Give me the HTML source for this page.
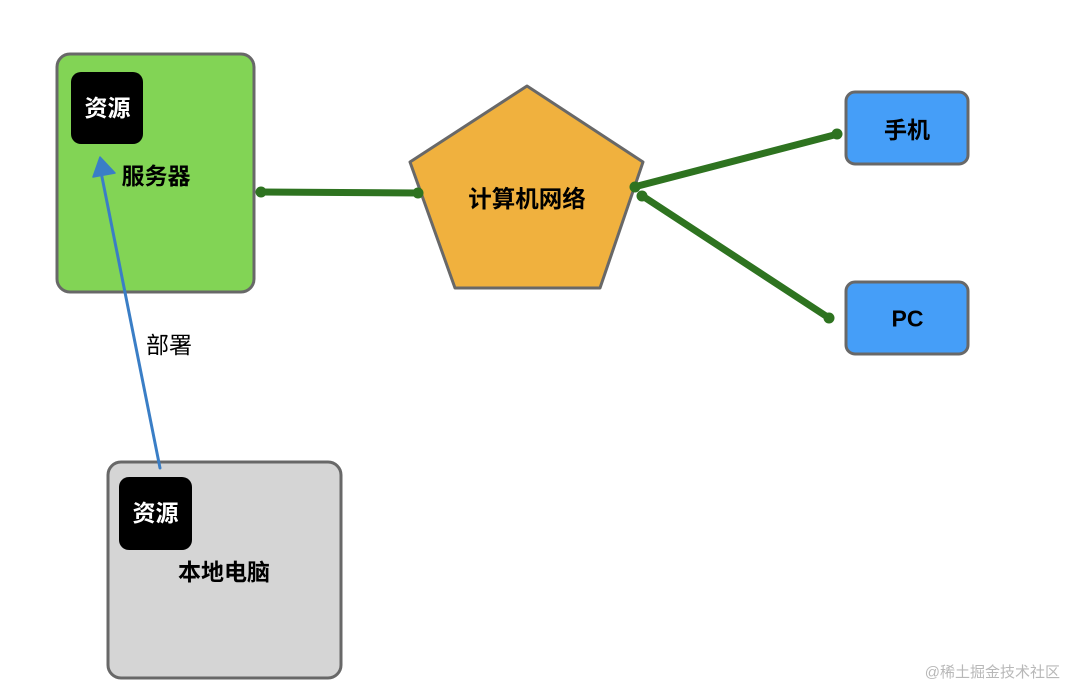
<!DOCTYPE html>
<html>
<head>
<meta charset="utf-8">
<style>
html,body{margin:0;padding:0;background:#fff;}
body{width:1080px;height:698px;overflow:hidden;}
svg{display:block;}
text{font-family:"Liberation Sans","Noto Sans CJK SC",sans-serif;}
</style>
</head>
<body>
<svg width="1080" height="698" viewBox="0 0 1080 698" xmlns="http://www.w3.org/2000/svg">
  <!-- Server box -->
  <rect x="57" y="54" width="197" height="238" rx="13" ry="13" fill="#82d455" stroke="#686868" stroke-width="3"/>
  <rect x="71" y="72" width="72" height="72" rx="10" ry="10" fill="#000"/>
  <text x="107.5" y="116" font-size="23" font-weight="bold" fill="#fff" text-anchor="middle">资源</text>
  <text x="156" y="184" font-size="23" font-weight="bold" fill="#000" text-anchor="middle">服务器</text>

  <!-- Local computer box -->
  <rect x="108" y="462" width="233" height="216" rx="13" ry="13" fill="#d5d5d5" stroke="#686868" stroke-width="3"/>
  <rect x="119" y="477" width="73" height="73" rx="10" ry="10" fill="#000"/>
  <text x="155.5" y="521" font-size="23" font-weight="bold" fill="#fff" text-anchor="middle">资源</text>
  <text x="224" y="580" font-size="23" font-weight="bold" fill="#000" text-anchor="middle">本地电脑</text>

  <!-- Blue deploy arrow -->
  <line x1="160" y1="468" x2="101" y2="172" stroke="#3a7ec6" stroke-width="3" stroke-linecap="round"/>
  <polygon points="100,157 93,177 115,173" fill="#3a7ec6" stroke="#3a7ec6" stroke-width="1.5" stroke-linejoin="round"/>
  <text x="169" y="353" font-size="23" fill="#000" text-anchor="middle">部署</text>

  <!-- Pentagon -->
  <polygon points="527,86 643,162 600,288 455,288 410,162" fill="#f0b13e" stroke="#686868" stroke-width="3" stroke-linejoin="round"/>
  <text x="527" y="207" font-size="23.5" font-weight="bold" fill="#000" text-anchor="middle">计算机网络</text>

  <!-- Phone & PC -->
  <rect x="846" y="92" width="122" height="72" rx="9" ry="9" fill="#459ef8" stroke="#686868" stroke-width="3"/>
  <text x="907" y="138" font-size="23" font-weight="bold" fill="#000" text-anchor="middle">手机</text>
  <rect x="846" y="282" width="122" height="72" rx="9" ry="9" fill="#459ef8" stroke="#686868" stroke-width="3"/>
  <text x="907.5" y="326.5" font-size="23" font-weight="bold" fill="#000" text-anchor="middle">PC</text>

  <!-- Green connectors -->
  <g stroke="#2e7320" stroke-linecap="round" fill="#2e7320">
    <line x1="260" y1="192" x2="419" y2="193" stroke-width="7"/>
    <line x1="634" y1="187" x2="838" y2="134" stroke-width="7"/>
    <line x1="641" y1="195" x2="829" y2="318" stroke-width="7"/>
  </g>
  <g fill="#2e7320">
    <circle cx="261" cy="192" r="5.5"/>
    <circle cx="418" cy="193" r="5.5"/>
    <circle cx="635" cy="187" r="5.5"/>
    <circle cx="642" cy="196" r="5.5"/>
    <circle cx="837" cy="134" r="5.5"/>
    <circle cx="829" cy="318" r="5.5"/>
  </g>

  <!-- Watermark -->
  <text x="1060" y="677" font-size="15" fill="#b8b8b8" text-anchor="end">@稀土掘金技术社区</text>
</svg>
</body>
</html>
